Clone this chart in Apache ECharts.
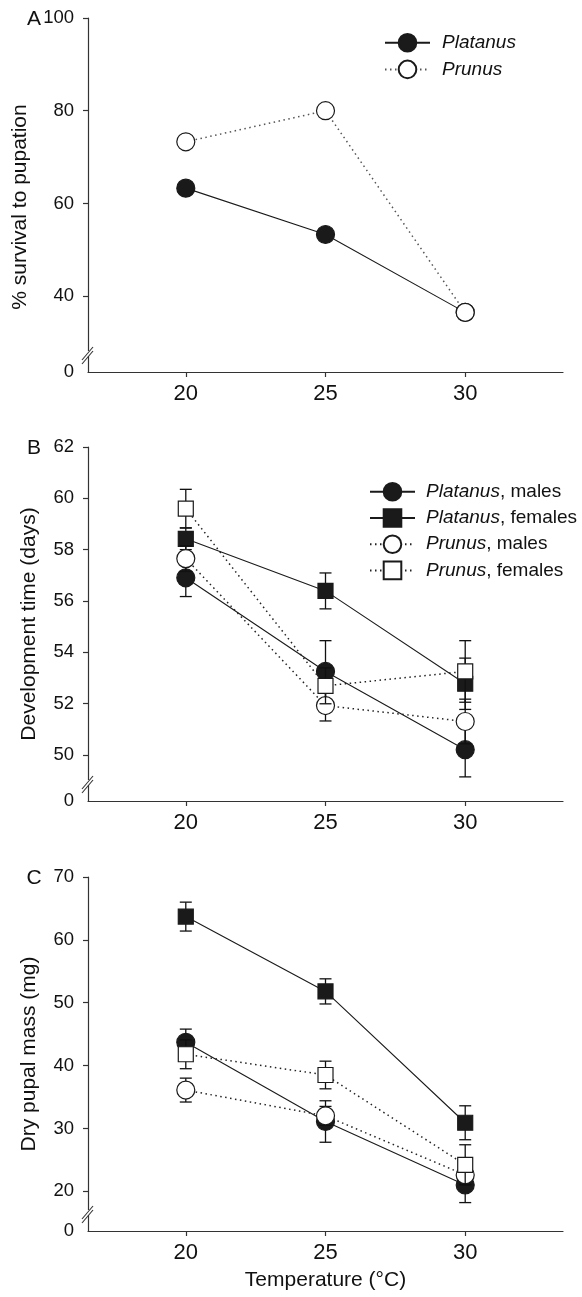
<!DOCTYPE html>
<html><head><meta charset="utf-8">
<script src="https://cdn.jsdelivr.net/npm/echarts@6/dist/echarts.min.js"></script>
<style>html,body{margin:0;padding:0;background:#fff}#c{width:582px;height:1297px}</style>
</head><body><div id="c"></div><script>
// ---- data ----
const temps = [20, 25, 30];
const xTicks = [20, 25, 30];
// Panel A: % survival to pupation
const survPlatanus = [63.3, 53.3, 36.5];
const survPrunus = [73.3, 80.0, 36.5];
const yTicksA = [40, 60, 80, 100];
// Panel B: development time (days), mean and error
const devPlM = [56.9, 53.25, 50.2];
const devPlMErr = [0.73, 1.2, 1.06];
const devPlF = [58.42, 56.39, 52.77];
const devPlFErr = [0.42, 0.7, 1.0];
const devPrM = [57.65, 51.92, 51.3];
const devPrMErr = [0.5, 0.6, 0.87];
const devPrF = [59.6, 52.69, 53.25];
const devPrFErr = [0.75, 0.7, 1.2];
const yTicksB = [50, 52, 54, 56, 58, 60, 62];
// Panel C: dry pupal mass (mg)
const massPlM = [43.7, 31.1, 21.0];
const massPlMErr = [2.1, 3.3, 2.8];
const massPlF = [63.7, 51.8, 30.9];
const massPlFErr = [2.3, 2.0, 2.7];
const massPrM = [36.1, 32.0, 22.6];
const massPrMErr = [1.9, 1.5, 1.5];
const massPrF = [41.8, 38.5, 24.2];
const massPrFErr = [2.3, 2.2, 3.2];
const yTicksC = [20, 30, 40, 50, 60, 70];
// broken-axis bottom (drawn as "0")
const axisBottom = [23.64, 48.2, 13.68];
const zeroLabel = '0';

// ---- layout ----
const FONT = '"Liberation Sans", Arial, sans-serif';
const gridTops = [18, 447, 877];
const gridH = 354, gridL = 88, gridW = 475;

const chart = echarts.init(document.getElementById('c'), null, {renderer: 'canvas'});

function xAxis(i, withName) {
  return {
    type: 'value', gridIndex: i, min: 16.5, max: 33.5,
    axisLine: {show: true, lineStyle: {color: '#333', width: 1.2}},
    axisTick: {show: true, customValues: xTicks, length: 5, inside: false, lineStyle: {color: '#333', width: 1.2}},
    axisLabel: {customValues: xTicks, fontSize: 22, color: '#111', margin: 11, fontFamily: FONT},
    splitLine: {show: false},
    name: withName ? 'Temperature (\u00B0C)' : '',
    nameLocation: 'middle', nameGap: 39,
    nameTextStyle: {fontSize: 21, color: '#111', fontFamily: FONT}
  };
}
function yAxis(i, ticks, name, gap, pad) {
  const mn = axisBottom[i];
  return {
    type: 'value', gridIndex: i, min: mn, max: ticks[ticks.length - 1],
    axisLine: {show: true, lineStyle: {color: '#333', width: 1.2}},
    axisTick: {show: true, customValues: ticks, length: 5, lineStyle: {color: '#333', width: 1.2}},
    axisLabel: {
      customValues: [mn].concat(ticks), fontSize: 18.5, color: '#111', margin: 14, fontFamily: FONT,
      showMinLabel: true, showMaxLabel: true,
      formatter: v => (Math.abs(v - mn) < 1e-6 ? zeroLabel : String(v))
    },
    splitLine: {show: false},
    name: name, nameLocation: 'middle', nameGap: gap,
    nameTextStyle: {fontSize: 21, color: '#111', fontFamily: FONT, padding: pad}
  };
}

function errSeries(gi, vals, errs, z) {
  return {
    type: 'custom', xAxisIndex: gi, yAxisIndex: gi, z: z, silent: true,
    data: temps.map((t, k) => [t, vals[k], errs[k]]),
    encode: {x: 0, y: 1},
    renderItem: function (params, api) {
      const x = api.value(0), v = api.value(1), e = api.value(2);
      const top = api.coord([x, v + e]);
      const bot = api.coord([x, v - e]);
      const hw = 6;
      const st = {stroke: '#111', lineWidth: 1.3};
      return {type: 'group', children: [
        {type: 'line', shape: {x1: top[0], y1: top[1], x2: bot[0], y2: bot[1]}, style: st},
        {type: 'line', shape: {x1: top[0] - hw, y1: top[1], x2: top[0] + hw, y2: top[1]}, style: st},
        {type: 'line', shape: {x1: bot[0] - hw, y1: bot[1], x2: bot[0] + hw, y2: bot[1]}, style: st}
      ]};
    }
  };
}
function lineSeries(gi, name, vals, filled, shape, dotted, z, lineColor) {
  return {
    type: 'line', name: name, xAxisIndex: gi, yAxisIndex: gi, z: z,
    data: temps.map((t, k) => [t, vals[k]]),
    symbol: shape, symbolSize: shape === 'circle' ? 18 : 15,
    showAllSymbol: true, animation: false,
    itemStyle: {color: filled ? '#1a1a1a' : '#fff', borderColor: '#1a1a1a', borderWidth: 1.2},
    lineStyle: dotted ? {color: lineColor || '#222', width: 1.5, type: [1.5, 3.5]} : {color: '#1a1a1a', width: 1.1, type: 'solid'},
    emphasis: {disabled: true}
  };
}

const series = [
  // A
  lineSeries(0, 'Platanus', survPlatanus, true, 'circle', false, 3),
  lineSeries(0, 'Prunus', survPrunus, false, 'circle', true, 5, '#555'),
  // B
  errSeries(1, devPlM, devPlMErr, 2),
  lineSeries(1, 'Platanus, males', devPlM, true, 'circle', false, 3),
  errSeries(1, devPlF, devPlFErr, 4),
  lineSeries(1, 'Platanus, females', devPlF, true, 'rect', false, 5),
  errSeries(1, devPrM, devPrMErr, 6),
  lineSeries(1, 'Prunus, males', devPrM, false, 'circle', true, 7),
  errSeries(1, devPrF, devPrFErr, 8),
  lineSeries(1, 'Prunus, females', devPrF, false, 'rect', true, 9),
  // C
  errSeries(2, massPlM, massPlMErr, 2),
  lineSeries(2, 'Platanus, males', massPlM, true, 'circle', false, 3),
  errSeries(2, massPlF, massPlFErr, 4),
  lineSeries(2, 'Platanus, females', massPlF, true, 'rect', false, 5),
  errSeries(2, massPrM, massPrMErr, 6),
  lineSeries(2, 'Prunus, males', massPrM, false, 'circle', true, 7),
  errSeries(2, massPrF, massPrFErr, 8),
  lineSeries(2, 'Prunus, females', massPrF, false, 'rect', true, 9)
];

const legendText = {
  fontSize: 19, color: '#111', fontFamily: FONT,
  rich: {i: {fontStyle: 'italic', fontSize: 19, color: '#111', fontFamily: FONT}}
};
function legendFmt(name) {
  const p = name.split(', ');
  return '{i|' + p[0] + '}' + (p[1] ? ', ' + p[1] : '');
}

// break marks ("//") on each y axis, panel letters
const graphics = [];
const letters = ['A', 'B', 'C'];
gridTops.forEach((t, i) => {
  const yb = t + gridH - 18;
  graphics.push({type: 'rect', shape: {x: gridL - 3, y: yb - 3, width: 6, height: 5}, style: {fill: '#fff'}, z: 50});
  graphics.push({type: 'line', shape: {x1: gridL - 6, y1: yb + 6, x2: gridL + 5, y2: yb - 7}, style: {stroke: '#333', lineWidth: 1.1}, z: 51});
  graphics.push({type: 'line', shape: {x1: gridL - 6, y1: yb + 10, x2: gridL + 5, y2: yb - 3}, style: {stroke: '#333', lineWidth: 1.1}, z: 51});
  graphics.push({type: 'text', x: 34, y: t + 1, style: {text: letters[i], fontSize: 21, fill: '#111', fontFamily: FONT, textAlign: 'center', textVerticalAlign: 'middle'}, z: 51});
});

chart.setOption({
  animation: false,
  backgroundColor: '#fff',
  textStyle: {fontFamily: FONT},
  grid: gridTops.map(t => ({left: gridL, top: t, width: gridW, height: gridH, containLabel: false})),
  xAxis: [xAxis(0, false), xAxis(1, false), xAxis(2, true)],
  yAxis: [
    yAxis(0, yTicksA, '% survival to pupation', 57, [0, 24, 0, 0]),
    yAxis(1, yTicksB, 'Development time (days)', 48, [0, 0, 0, 0]),
    yAxis(2, yTicksC, 'Dry pupal mass (mg)', 48, [0, 0, 0, 0])
  ],
  legend: [
    {data: ['Platanus', 'Prunus'], orient: 'vertical', left: 384, top: 33, padding: 0,
     itemWidth: 45, itemHeight: 22, itemGap: 7, formatter: legendFmt,
     textStyle: Object.assign({padding: [0, 0, 0, 7]}, legendText), selectedMode: false},
    {data: ['Platanus, males', 'Platanus, females', 'Prunus, males', 'Prunus, females'],
     orient: 'vertical', left: 369, top: 482, padding: 0,
     itemWidth: 45, itemHeight: 22, itemGap: 6.6, formatter: legendFmt,
     textStyle: Object.assign({padding: [0, 0, 0, 6]}, legendText), selectedMode: false}
  ],
  graphic: graphics,
  series: series
});
</script></body></html>
